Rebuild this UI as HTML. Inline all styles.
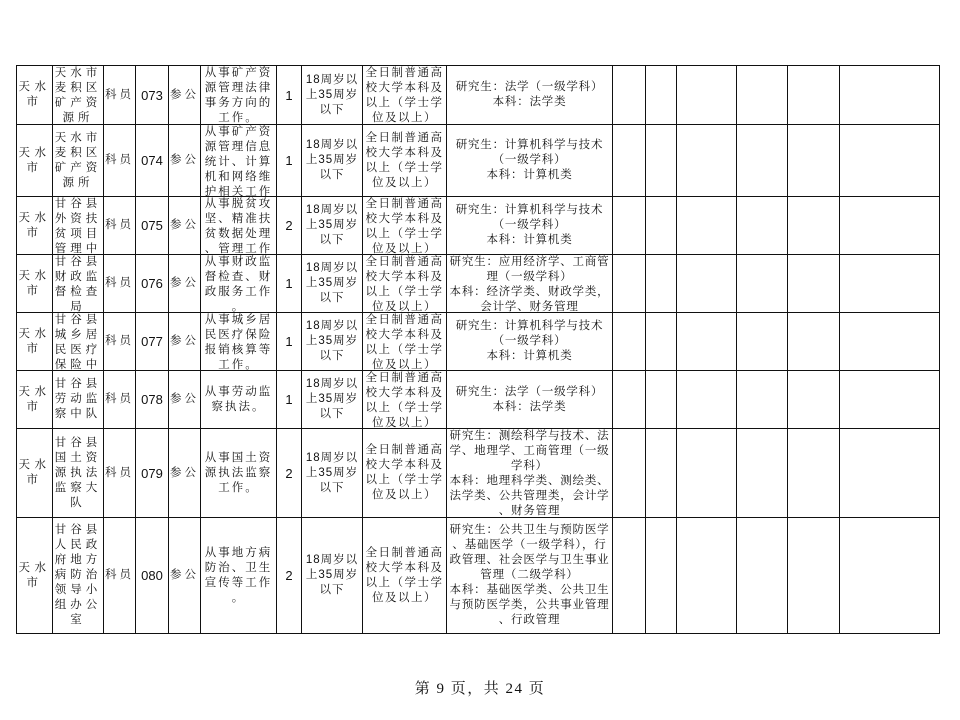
<!DOCTYPE html>
<html><head><meta charset="utf-8"><style>
body{margin:0;width:960px;height:720px;background:#fff;position:relative;overflow:hidden;font-family:"Liberation Serif","Noto Serif CJK SC",serif;color:#111}
.c{position:absolute;box-sizing:border-box;border:1px solid #111;display:flex;flex-direction:column;justify-content:safe center;align-items:center;overflow:hidden;text-align:center;font-size:11.5px;line-height:15px;white-space:nowrap}
.n{font-family:"Liberation Sans",sans-serif;font-size:13px}
.s{font-family:"Liberation Sans","Noto Serif CJK SC",sans-serif}
.foot{position:absolute;left:0;width:960px;top:677px;text-align:center;font-size:15px;letter-spacing:1.5px}
</style></head><body>
<div id="t"></div>
<div class="foot">第 9 页，共 24 页</div>
<script>
var X=[16,52,103,135,168,200,276,301,362,446,612,645,676,736,787,839,939];
var Y=[65,124,196,254,312,370,428,517,633];
var LS=[4.5,4,3,0,3,2,0,1,1.5,0.8];
var kz=["研究生：计算机科学与技术","（一级学科）","本科：计算机类"];
var fx=["研究生：法学（一级学科）","本科：法学类"];
var ag=["18周岁以","上35周岁","以下"];
var ed=["全日制普通高","校大学本科及","以上（学士学","位及以上）"];
var R=[
[["天水市"],["天水市","麦积区","矿产资","源所"],"073","1",["从事矿产资","源管理法律","事务方向的","工作。"],fx],
[["天水市","麦积区","矿产资","源所"],"074","1",["从事矿产资","源管理信息","统计、计算","机和网络维","护相关工作"],kz],
[["甘谷县","外资扶","贫项目","管理中","心"],"075","2",["从事脱贫攻","坚、精准扶","贫数据处理","、管理工作"],kz],
[["甘谷县","财政监","督检查","局"],"076","1",["从事财政监","督检查、财","政服务工作","。"],["研究生：应用经济学、工商管","理（一级学科）","本科：经济学类、财政学类，","会计学、财务管理"]],
[["甘谷县","城乡居","民医疗","保险中","心"],"077","1",["从事城乡居","民医疗保险","报销核算等","工作。"],kz],
[["甘谷县","劳动监","察中队"],"078","1",["从事劳动监","察执法。"],fx],
[["甘谷县","国土资","源执法","监察大","队"],"079","2",["从事国土资","源执法监察","工作。"],["研究生：测绘科学与技术、法","学、地理学、工商管理（一级","学科）","本科：地理科学类、测绘类、","法学类、公共管理类，会计学","、财务管理"]],
[["甘谷县","人民政","府地方","病防治","领导小","组办公","室"],"080","2",["从事地方病","防治、卫生","宣传等工作","。"],["研究生：公共卫生与预防医学","、基础医学（一级学科），行","政管理、社会医学与卫生事业","管理（二级学科）","本科：基础医学类、公共卫生","与预防医学类，公共事业管理","、行政管理"]]
];
var h="";
function cell(ci,ri,html,cls){
 var l=X[ci],t=Y[ri],w=X[ci+1]-l+1,hh=Y[ri+1]-t+1;
 h+='<div class="c '+(cls||"")+'" style="left:'+l+'px;top:'+t+'px;width:'+w+'px;height:'+hh+'px;letter-spacing:'+(LS[ci]||0)+'px">'+html+'</div>';
}
function L(a){return a.map(function(s){return '<div>'+s+'</div>'}).join("")}
for(var i=0;i<8;i++){
 var r=R[i];var u=i==0?r[1]:r[0];var code=i==0?r[2]:r[1];var num=i==0?r[3]:r[2];var job=i==0?r[4]:r[3];var maj=i==0?r[5]:r[4];
 cell(0,i,L(["天水","市"]));
 cell(1,i,L(u));
 cell(2,i,"科员");
 cell(3,i,code,"n");
 cell(4,i,"参公");
 cell(5,i,L(job));
 cell(6,i,num,"n");
 cell(7,i,L(ag),"s");
 cell(8,i,L(ed));
 cell(9,i,L(maj));
 for(var c=10;c<16;c++)cell(c,i,"");
}
document.getElementById("t").innerHTML=h;
</script>
</body></html>
